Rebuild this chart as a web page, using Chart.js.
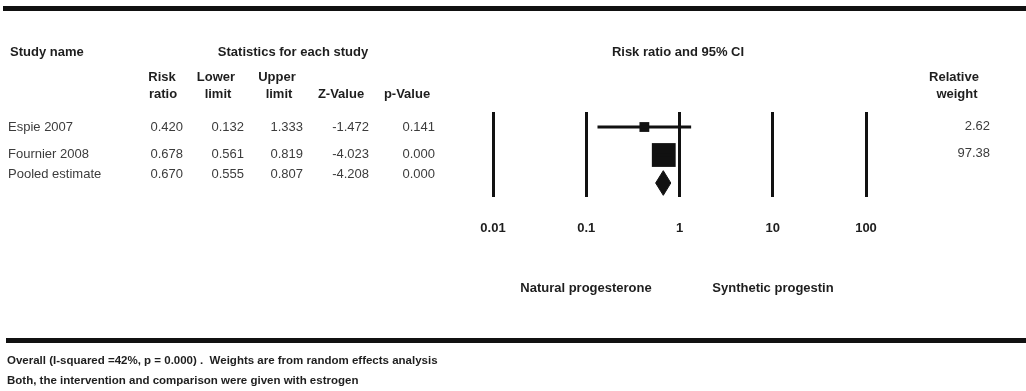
<!DOCTYPE html>
<html>
<head>
<meta charset="utf-8">
<script src="https://cdn.jsdelivr.net/npm/chart.js@4/dist/chart.umd.min.js"></script>
<style>
  html, body { margin: 0; padding: 0; background: #fff; }
  #page { position: relative; width: 1026px; height: 391px; overflow: hidden; font-family: Arial, "Liberation Sans", sans-serif; }
  #plot { position: absolute; left: 0; top: 0; }
  .t { position: absolute; white-space: pre; line-height: 16px; height: 16px; }
  .hd { font-weight: bold; font-size: 13px; color: #1e1e1e; }
  .cell { font-size: 13px; color: #3c3c3c; }
  .foot { font-weight: bold; font-size: 11.5px; color: #1e1e1e; }
  .rule { position: absolute; background: #111; }
</style>
</head>
<body>
<div id="page">
  <canvas id="plot" width="1026" height="391"></canvas>
  <div class="rule" style="left:3px; top:6px; width:1023px; height:5px;"></div>
  <div class="rule" style="left:6px; top:338px; width:1020px; height:5px;"></div>
</div>
<script>
// values
const studyNames = ['Espie 2007', 'Fournier 2008', 'Pooled estimate'];
const riskRatio = [0.420, 0.678, 0.670];
const lowerLimit = [0.132, 0.561, 0.555];
const upperLimit = [1.333, 0.819, 0.807];
const zValue = [-1.472, -4.023, -4.208];
const pValue = [0.141, 0.000, 0.000];
const relWeight = [2.62, 97.38];
const tickValues = [0.01, 0.1, 1, 10, 100];
const tickLabels = ['0.01', '0.1', '1', '10', '100'];
const sideLabels = ['Natural progesterone', 'Synthetic progestin'];
const footNotes = [
  'Overall (I-squared =42%, p = 0.000) .  Weights are from random effects analysis',
  'Both, the intervention and comparison were given with estrogen'
];

const page = document.getElementById('page');

function place(text, x, y, align, cls) {
  const d = document.createElement('div');
  d.className = 't ' + cls;
  d.textContent = text;
  d.style.left = x + 'px';
  d.style.top = (y - 8) + 'px';
  if (align === 'right') d.style.transform = 'translateX(-100%)';
  if (align === 'center') d.style.transform = 'translateX(-50%)';
  page.appendChild(d);
}

// table headers
place('Study name', 10, 52, 'left', 'hd');
place('Statistics for each study', 293, 52, 'center', 'hd');
place('Risk ratio and 95% CI', 678, 52, 'center', 'hd');
place('Risk', 162, 77, 'center', 'hd');
place('ratio', 163, 94, 'center', 'hd');
place('Lower', 216, 77, 'center', 'hd');
place('limit', 218, 94, 'center', 'hd');
place('Upper', 277, 77, 'center', 'hd');
place('limit', 279, 94, 'center', 'hd');
place('Z-Value', 341, 94, 'center', 'hd');
place('p-Value', 407, 94, 'center', 'hd');
place('Relative', 954, 77, 'center', 'hd');
place('weight', 957, 94, 'center', 'hd');

// table rows
const rowY = [127, 154, 174];
const colRight = [183, 244, 303, 369, 435];
studyNames.forEach((name, i) => {
  place(name, 8, rowY[i], 'left', 'cell');
  const vals = [riskRatio[i], lowerLimit[i], upperLimit[i], zValue[i], pValue[i]];
  vals.forEach((v, j) => place(v.toFixed(3), colRight[j], rowY[i], 'right', 'cell'));
  if (i < relWeight.length) place(relWeight[i].toFixed(2), 990, rowY[i] - 1, 'right', 'cell');
});

place(sideLabels[0], 586, 288, 'center', 'hd');
place(sideLabels[1], 773, 288, 'center', 'hd');
place(footNotes[0], 7, 360, 'left', 'foot');
place(footNotes[1], 7, 380, 'left', 'foot');

// forest plot
const nStudies = relWeight.length;
const pooled = studyNames.length - 1;
const diamondHalf = 0.44;

const datasets = [];
for (let i = 0; i < nStudies; i++) {
  datasets.push({
    data: [{ x: lowerLimit[i], y: i }, { x: upperLimit[i], y: i }],
    showLine: true,
    borderColor: '#111',
    borderWidth: 3,
    pointRadius: 0
  });
}
datasets.push({
  data: relWeight.map((w, i) => ({ x: riskRatio[i], y: i })),
  pointStyle: 'rect',
  pointRadius: ctx => 5 + 12 * Math.sqrt(relWeight[ctx.dataIndex] / 100),
  pointBackgroundColor: '#111',
  pointBorderWidth: 0,
  showLine: false
});
datasets.push({
  data: [
    { x: lowerLimit[pooled], y: pooled },
    { x: riskRatio[pooled], y: pooled - diamondHalf },
    { x: upperLimit[pooled], y: pooled },
    { x: riskRatio[pooled], y: pooled + diamondHalf },
    { x: lowerLimit[pooled], y: pooled }
  ],
  showLine: true,
  fill: 'shape',
  tension: 0,
  backgroundColor: '#111',
  borderColor: '#111',
  borderWidth: 1,
  pointRadius: 0
});

new Chart(document.getElementById('plot'), {
  type: 'scatter',
  data: { datasets },
  options: {
    responsive: false,
    animation: false,
    layout: { padding: { left: 493, right: 160, top: 112, bottom: 154 } },
    plugins: { legend: { display: false }, tooltip: { enabled: false } },
    scales: {
      x: {
        type: 'logarithmic',
        min: 0.01,
        max: 100,
        afterBuildTicks: scale => { scale.ticks = tickValues.map(v => ({ value: v })); },
        afterFit: scale => { scale.height = 40; },
        ticks: {
          autoSkip: false,
          maxRotation: 0,
          padding: 24,
          color: '#1e1e1e',
          font: { family: 'Arial, "Liberation Sans", sans-serif', size: 13, weight: 'bold' },
          callback: (value, index) => tickLabels[index]
        },
        grid: { color: '#111', lineWidth: 3, drawTicks: false },
        border: { display: false }
      },
      y: {
        type: 'linear',
        min: -0.536,
        max: 2.5,
        reverse: true,
        display: false
      }
    }
  }
});
</script>
</body>
</html>
